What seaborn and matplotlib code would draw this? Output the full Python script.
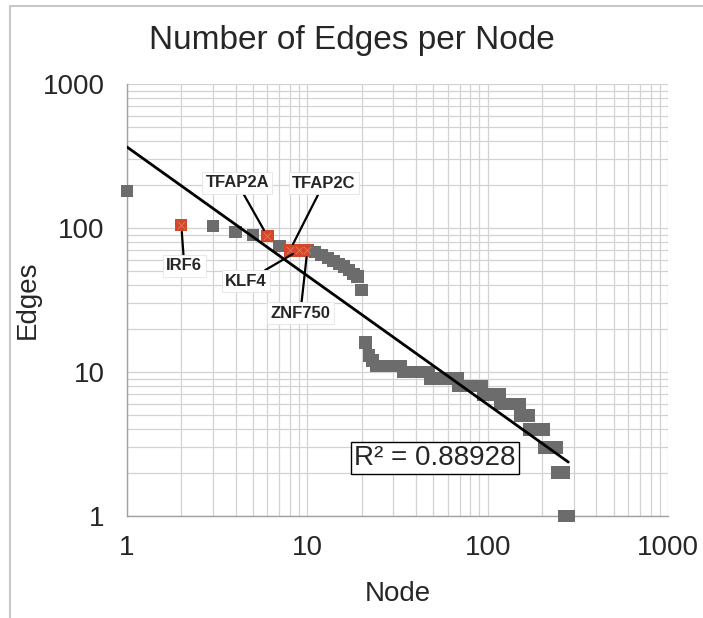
import numpy as np
import pandas as pd
import matplotlib
matplotlib.use("Agg")
import matplotlib.pyplot as plt
from matplotlib.lines import Line2D
from matplotlib.ticker import FixedLocator, FixedFormatter, LogLocator, NullFormatter
import seaborn as sns

# ---------------- data ----------------
head_edges = [180, 105, 103, 94, 89, 88, 75, 70, 70, 70, 68, 65, 62, 59, 56,
              54, 51, 48, 46, 37, 16, 13, 12]          # nodes 1..23
tail_levels = [11, 10, 9, 8, 7, 6, 5, 4, 3, 2, 1]       # edge level of the staircase
tail_counts = [10, 14, 21, 25, 23, 34, 19, 35, 38, 22, 16]  # nodes at each level
highlight_nodes = [2, 6, 8, 9, 10]
highlight_labels = ["IRF6", "TFAP2A", "TFAP2C", "KLF4", "ZNF750"]
fit_a = 365.0
fit_b = -0.894
r2_text = "R\u00b2 = 0.88928"
x_ticks = [1, 10, 100, 1000]
y_ticks = [1, 10, 100, 1000]
title = "Number of Edges per Node"
x_label = "Node"
y_label = "Edges"

edges = np.concatenate([np.array(head_edges), np.repeat(tail_levels, tail_counts)])
nodes = np.arange(1, len(edges) + 1)
df = pd.DataFrame({"Node": nodes, "Edges": edges})
df["group"] = np.where(df["Node"].isin(highlight_nodes), "hl", "base")

# ---------------- style ----------------
sns.set_style("white")
plt.rcParams["font.family"] = ["Liberation Sans", "DejaVu Sans"]

W, H = 703, 618
fig = plt.figure(figsize=(W / 100, H / 100), dpi=100)
L, R, T, B = 127, 668, 84, 516
ax = fig.add_axes([L / W, 1 - B / H, (R - L) / W, (B - T) / H])

GRAY = "#6c6c6c"
RED = "#d4472a"

# trend line (power fit)
fit_x = np.array([1.0, float(nodes.max())])
fit_df = pd.DataFrame({"Node": fit_x, "Edges": fit_a * fit_x ** fit_b})

sns.scatterplot(data=df, x="Node", y="Edges", hue="group",
                palette={"base": GRAY, "hl": RED}, marker="s", s=80,
                linewidth=0, legend=False, ax=ax, zorder=3, clip_on=False)
hl = df[df["group"] == "hl"]
ax.scatter(hl["Node"], hl["Edges"], marker="x", s=28, color="#e58462",
           linewidths=0.5, zorder=4)
sns.lineplot(data=fit_df, x="Node", y="Edges", color="black", lw=2.0,
             ax=ax, zorder=5)

ax.set_xscale("log")
ax.set_yscale("log")
ax.set_xlim(1, 1000)
ax.set_ylim(1, 1000)

ax.xaxis.set_major_locator(FixedLocator(x_ticks))
ax.xaxis.set_major_formatter(FixedFormatter([str(v) for v in x_ticks]))
ax.yaxis.set_major_locator(FixedLocator(y_ticks))
ax.yaxis.set_major_formatter(FixedFormatter([str(v) for v in y_ticks]))
ax.xaxis.set_minor_locator(LogLocator(base=10, subs=np.arange(2, 10)))
ax.yaxis.set_minor_locator(LogLocator(base=10, subs=np.arange(2, 10)))
ax.xaxis.set_minor_formatter(NullFormatter())
ax.yaxis.set_minor_formatter(NullFormatter())

ax.grid(True, which="both", color="#d2d2d2", lw=0.9)
ax.set_axisbelow(True)
for s in ["top", "right"]:
    ax.spines[s].set_visible(False)
for s in ["left", "bottom"]:
    ax.spines[s].set_color("#a0a0a0")
    ax.spines[s].set_linewidth(1.0)
ax.tick_params(which="major", axis="x", direction="out", length=5, width=1,
               color="#a0a0a0", labelsize=20, pad=9)
ax.tick_params(which="major", axis="y", direction="out", length=6, width=1,
               color="#a0a0a0", labelsize=20, pad=10)
ax.tick_params(which="minor", length=0)

ax.set_xlabel(x_label, fontsize=20)
ax.set_ylabel(y_label, fontsize=20)
ax.xaxis.set_label_coords(0.5, -0.15)
ax.yaxis.set_label_coords(-0.16, 0.5)

# annotations (offsets in pixels)
offsets = {"IRF6": (3, -41), "TFAP2A": (-30, 53), "TFAP2C": (34, 67),
           "KLF4": (-53, -31), "ZNF750": (-7, -63)}
for n, lab in zip(highlight_nodes, highlight_labels):
    yv = df.loc[df["Node"] == n, "Edges"].iloc[0]
    ax.annotate(lab, xy=(n, yv), xytext=offsets[lab], textcoords="offset pixels",
                ha="center", va="center", fontsize=12, fontweight="bold",
                bbox=dict(boxstyle="square,pad=0.2", fc="white", ec="#e4e4e4", lw=0.6),
                arrowprops=dict(arrowstyle="-", color="black", lw=1.6,
                                shrinkA=0, shrinkB=5),
                zorder=6)

ax.text(0.569, 0.134, r2_text, transform=ax.transAxes, ha="center", va="center",
        fontsize=20, zorder=7,
        bbox=dict(boxstyle="square,pad=0.12", fc="white", ec="black", lw=1.0))

fig.text(0.5, 1 - 41 / H, title, ha="center", va="center", fontsize=24)

# outer frame lines of the reference crop
fig.add_artist(Line2D([10 / W, 10 / W], [0, 1 - 6 / H], transform=fig.transFigure,
                      color="#c8c8c8", lw=1.5))
fig.add_artist(Line2D([10 / W, 1], [1 - 6 / H, 1 - 6 / H], transform=fig.transFigure,
                      color="#c8c8c8", lw=1.5))

fig.savefig("out.png", dpi=100)
